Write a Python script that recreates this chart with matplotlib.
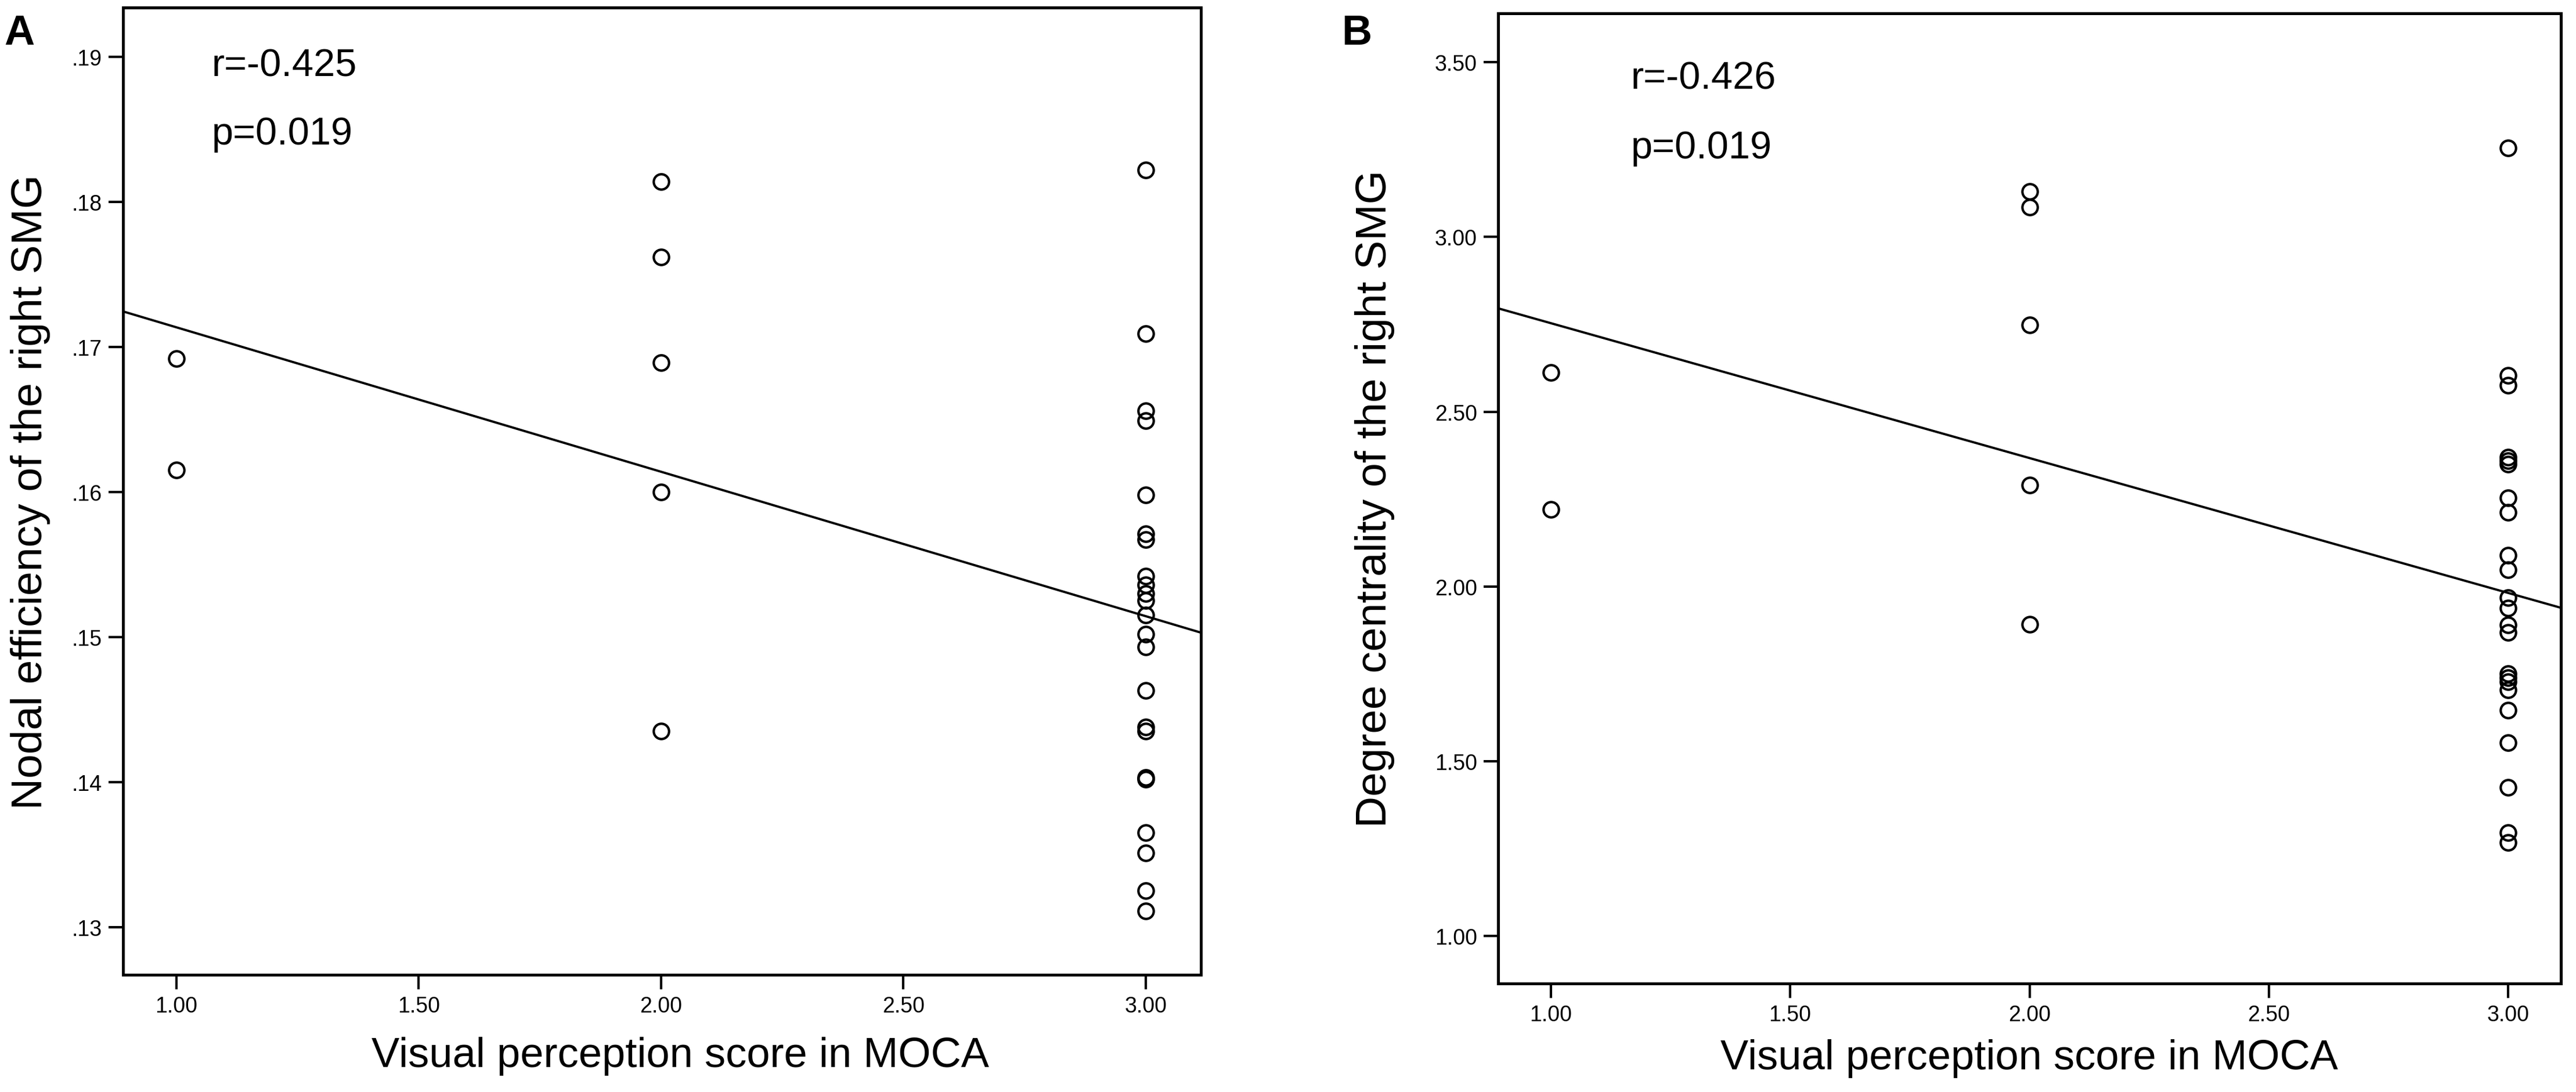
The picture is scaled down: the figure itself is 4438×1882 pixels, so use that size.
import matplotlib
matplotlib.use("Agg")
import matplotlib.pyplot as plt
import numpy as np

plt.rcParams['font.family'] = ['Liberation Sans', 'DejaVu Sans']

# ---------------- data ----------------
xA1 = [1.0, 1.0]
yA1 = [0.1692, 0.1615]
xA2 = [2.0] * 5
yA2 = [0.1814, 0.1762, 0.1689, 0.1600, 0.1435]
xA3 = [3.0] * 23
yA3 = [0.1822, 0.1709, 0.1656, 0.1649, 0.1598, 0.1571, 0.1567, 0.1542,
       0.1536, 0.1530, 0.1525, 0.1515, 0.1502, 0.1493, 0.1463, 0.1438,
       0.1435, 0.1403, 0.1402, 0.1365, 0.1351, 0.1325, 0.1311]

xB1 = [1.0, 1.0]
yB1 = [2.613, 2.220]
xB2 = [2.0] * 5
yB2 = [3.131, 3.085, 2.748, 2.290, 1.891]
xB3 = [3.0] * 23
yB3 = [3.254, 2.604, 2.575, 2.37, 2.36, 2.35, 2.253, 2.212, 2.090, 2.047,
       1.968, 1.939, 1.890, 1.868, 1.750, 1.739, 1.728, 1.704, 1.646,
       1.553, 1.425, 1.296, 1.267]

# fit lines: intercept, slope
fitA = (0.18131, -0.00996)
fitB = (3.1395, -0.386)

x_ticks = [1.0, 1.5, 2.0, 2.5, 3.0]
x_ticklabels = ["1.00", "1.50", "2.00", "2.50", "3.00"]
yA_ticks = [0.13, 0.14, 0.15, 0.16, 0.17, 0.18, 0.19]
yA_ticklabels = [".13", ".14", ".15", ".16", ".17", ".18", ".19"]
yB_ticks = [1.0, 1.5, 2.0, 2.5, 3.0, 3.5]
yB_ticklabels = ["1.00", "1.50", "2.00", "2.50", "3.00", "3.50"]

xlabel = "Visual perception score in MOCA"
ylabelA = "Nodal efficiency of the right SMG"
ylabelB = "Degree centrality of the right SMG"
statsA = ["r=-0.425", "p=0.019"]
statsB = ["r=-0.426", "p=0.019"]

# ---------------- figure ----------------
W, H = 4438, 1883
DPI = 200
fig = plt.figure(figsize=(W / DPI, H / DPI), dpi=DPI)
fig.patch.set_facecolor("white")

def px_axes(l, t, r, b):
    return fig.add_axes([l / W, 1 - b / H, (r - l) / W, (b - t) / H])

axA = px_axes(212, 14, 2069, 1681)
axB = px_axes(2581, 24, 4412, 1696)

def style(ax, xlim, ylim, yt, ytl):
    ax.set_xlim(*xlim)
    ax.set_ylim(*ylim)
    ax.set_xticks(x_ticks)
    ax.set_xticklabels(x_ticklabels)
    ax.set_yticks(yt)
    ax.set_yticklabels(ytl)
    for s in ax.spines.values():
        s.set_linewidth(1.8)
        s.set_color("black")
    ax.tick_params(axis="both", which="both", direction="out", length=9,
                   width=1.5, labelsize=13.5, pad=4, colors="black",
                   top=False, right=False)

def draw(ax, groups, fit, xlim):
    for xs, ys in groups:
        ax.plot(xs, ys, linestyle="none", marker="o", markersize=9.5,
                markerfacecolor="none", markeredgecolor="black",
                markeredgewidth=1.5, zorder=3)
    xx = np.array(xlim)
    ax.plot(xx, fit[0] + fit[1] * xx, color="black", linewidth=1.4, zorder=2)

xlimA = (0.89, 3.114)
draw(axA, [(xA1, yA1), (xA2, yA2), (xA3, yA3)], fitA, xlimA)
style(axA, xlimA, (0.1267, 0.1934), yA_ticks, yA_ticklabels)

xlimB = (0.89, 3.11)
draw(axB, [(xB1, yB1), (xB2, yB2), (xB3, yB3)], fitB, xlimB)
style(axB, xlimB, (0.864, 3.64), yB_ticks, yB_ticklabels)

# axis labels
axA.set_xlabel(xlabel, fontsize=26, va="center")
axA.xaxis.set_label_coords(0.517, -0.0834)
axA.set_ylabel(ylabelA, fontsize=27, va="center")
axA.yaxis.set_label_coords(-0.086, 0.5)

axB.set_xlabel(xlabel, fontsize=26, va="center")
axB.xaxis.set_label_coords(0.5, -0.077)
axB.set_ylabel(ylabelB, fontsize=27, va="center")
axB.yaxis.set_label_coords(-0.116, 0.5)

# stats annotations
axA.text(0.082, 0.94, statsA[0], transform=axA.transAxes, fontsize=24,
         ha="left", va="center")
axA.text(0.082, 0.869, statsA[1], transform=axA.transAxes, fontsize=24,
         ha="left", va="center")
axB.text(0.125, 0.933, statsB[0], transform=axB.transAxes, fontsize=24,
         ha="left", va="center")
axB.text(0.125, 0.861, statsB[1], transform=axB.transAxes, fontsize=24,
         ha="left", va="center")

# panel letters
fig.text(7 / W, 1 - 24 / H, "A", fontsize=26, fontweight="bold",
         ha="left", va="top")
fig.text(2311 / W, 1 - 24 / H, "B", fontsize=26, fontweight="bold",
         ha="left", va="top")

fig.savefig("out.png", dpi=DPI, facecolor="white")
